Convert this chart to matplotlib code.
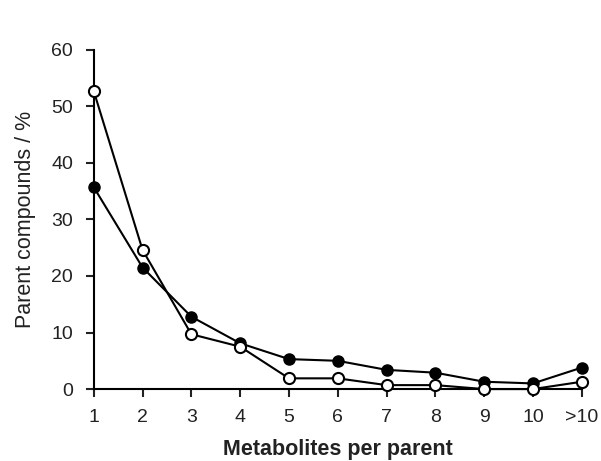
import matplotlib
matplotlib.use("Agg")
import matplotlib.pyplot as plt

plt.rcParams['font.family'] = ['Liberation Sans', 'DejaVu Sans']

categories = ["1", "2", "3", "4", "5", "6", "7", "8", "9", "10", ">10"]
filled_vals = [35.7, 21.5, 12.8, 8.1, 5.3, 5.0, 3.4, 2.9, 1.3, 1.0, 3.8]
open_vals = [52.7, 24.6, 9.7, 7.5, 1.9, 1.9, 0.7, 0.7, 0.0, 0.0, 1.3]

x = list(range(1, len(categories) + 1))

fig = plt.figure(figsize=(6.01, 4.61), dpi=100)
ax = fig.add_axes([0.156, 0.156, 0.812, 0.736])

ax.plot(x, filled_vals, color="black", lw=1.5, marker="o", ms=8,
        mfc="black", mec="black", clip_on=False, zorder=3)
ax.plot(x, open_vals, color="black", lw=1.5, marker="o", ms=8,
        mfc="white", mec="black", mew=1.5, clip_on=False, zorder=4)

ax.set_xlim(1, 11)
ax.set_ylim(0, 60)
ax.set_xticks(x)
ax.set_xticklabels(categories)
ax.set_yticks(range(0, 61, 10))
ax.spines["top"].set_visible(False)
ax.spines["right"].set_visible(False)
ax.spines["left"].set_linewidth(1.5)
ax.spines["bottom"].set_linewidth(1.5)
ax.tick_params(axis="both", direction="out", length=6, width=1.5,
               labelsize=14, colors="#222222", pad=8)
ax.tick_params(axis="y", pad=9)

ax.set_xlabel("Metabolites per parent", fontsize=15.5, fontweight="bold",
              labelpad=10, color="#222222")
ax.set_ylabel("Parent compounds / %", fontsize=15.5,
              labelpad=11, color="#222222")

fig.savefig("out.png", dpi=100)
